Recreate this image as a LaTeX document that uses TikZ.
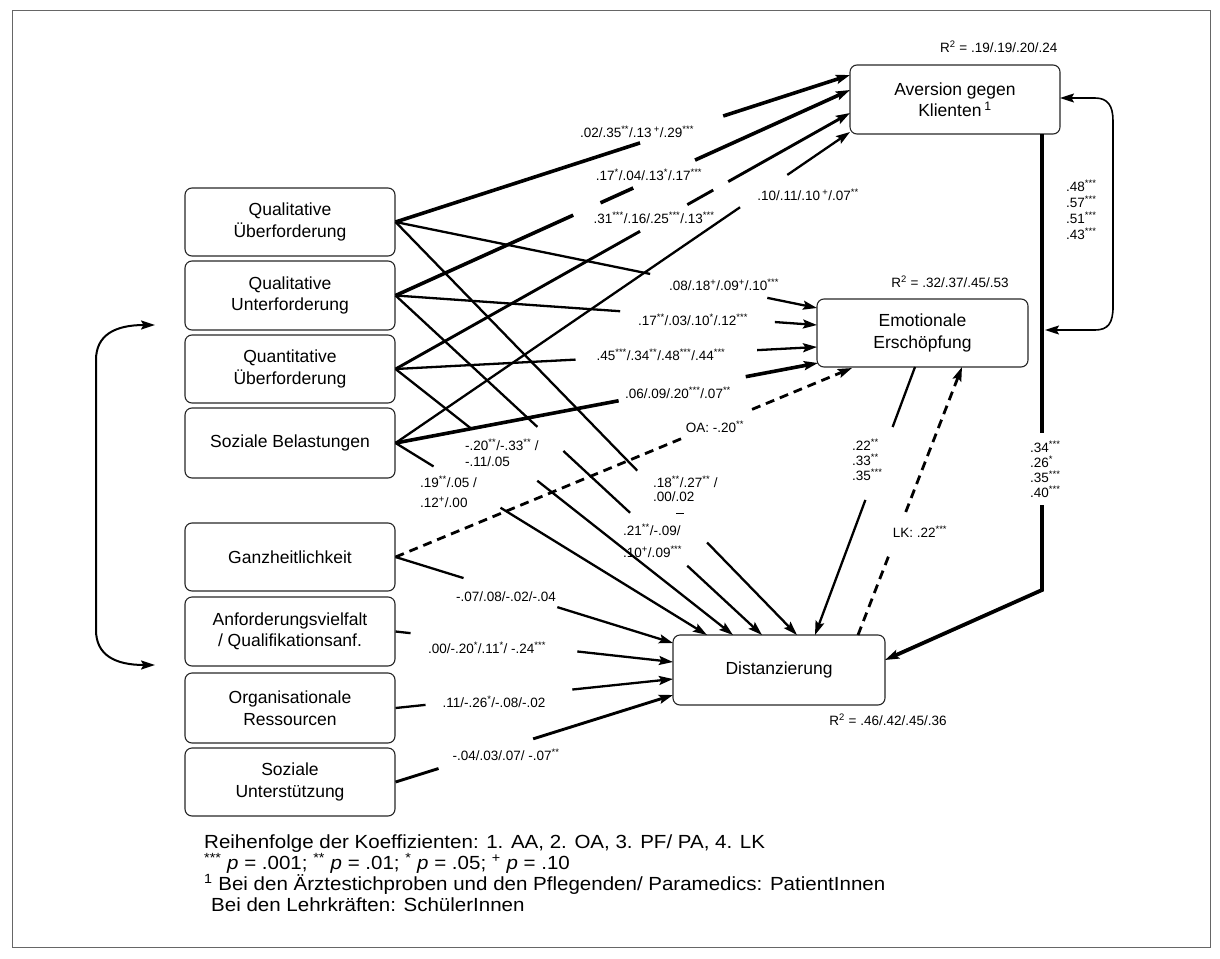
\documentclass[tikz,border=0pt]{standalone}
\usepackage{fontspec}
\setmainfont{Liberation Sans}
\newfontfamily\footfont[FakeStretch=1.08]{Liberation Sans}
\usetikzlibrary{arrows.meta,calc}
\newcommand{\supx}[1]{\textsuperscript{#1}}
\newcommand{\gapline}[5]{%
  \draw[#1] (#2) -- ($(#2)!#3!(#5)$);
  \draw[#1,tip] ($(#2)!#4!(#5)$) -- (#5);}
\begin{document}
\begin{tikzpicture}[x=1pt,y=-1pt,
  box/.style={draw=black!85, line width=1.1pt, rounded corners=7pt, minimum width=210pt,
    minimum height=68pt, align=center, inner sep=2pt, font=\fontsize{17.5}{21.5}\selectfont},
  lbl/.style={inner sep=0pt, font=\fontsize{13.5}{16}\selectfont},
  med/.style={line width=2.3pt},
  thk/.style={line width=3.6pt},
  tip/.style={-{Stealth[length=14pt,width=9pt,inset=2.5pt]}},
  dsh/.style={line width=2.8pt, dash pattern=on 9pt off 6pt},
  foot/.style={anchor=base west, inner sep=0pt, font=\footfont\fontsize{19}{21}\selectfont}
]
\useasboundingbox (0,0) rectangle (1220,958);
\draw[black!60, line width=0.8pt] (12,10) rectangle (1210,947);

% left boxes
\node[box] (q1) at (290,222) {Qualitative\\Überforderung};
\node[box, minimum height=69pt] (q2) at (290,295.5) {Qualitative\\Unterforderung};
\node[box] (q3) at (290,369) {Quantitative\\Überforderung};
\node[box, minimum height=70pt] (q4) at (290,443) {Soziale Belastungen};
\node[box] (g) at (290,557) {Ganzheitlichkeit};
\node[box, minimum height=69pt] (a) at (290,631.5) {Anforderungsvielfalt\\/ Qualifikationsanf.};
\node[box, minimum height=70pt] (o) at (290,708) {Organisationale\\Ressourcen};
\node[box] (u) at (290,782) {Soziale\\Unterstützung};

% right boxes
\node[box, minimum height=69pt] (av) at (955,99.5) {Aversion gegen\\Klienten\,\supx{1}};
\node[box, minimum width=211pt] (em) at (922.5,333) {Emotionale\\Erschöpfung};
\node[box, minimum width=212pt, minimum height=70pt] (di) at (779,670) {Distanzierung};

% target coordinates
\coordinate (av1) at (850,75);
\coordinate (av2) at (850,90);
\coordinate (av3) at (850,113);
\coordinate (av4) at (850,132);
\coordinate (em1) at (817,308);
\coordinate (em2) at (817,325);
\coordinate (em3) at (817,347);
\coordinate (em4) at (818,363);
\coordinate (dt1) at (707,635);
\coordinate (dt2) at (733,635);
\coordinate (dt3) at (762,635);
\coordinate (dt4) at (797,635);
\coordinate (dl1) at (673,643);
\coordinate (dl2) at (673,662);
\coordinate (dl3) at (673,679);
\coordinate (dl4) at (673,695);
\coordinate (emb1) at (852,368);
\coordinate (emb2) at (962,367);
\coordinate (emb3) at (915,367);
\coordinate (dt5) at (815,635);
\coordinate (dt6) at (858,635);
\coordinate (avs) at (1042,134);
\coordinate (vgap1) at (1042,433);
\coordinate (vgap2) at (1042,505);
\coordinate (bend) at (1042,590);
\coordinate (de) at (885,660);
\coordinate (ave) at (1060,98);
\coordinate (vl) at (1045,330);
\coordinate (lt) at (155,325);
\coordinate (lb) at (155,665);

% to Aversion
\gapline{thk}{q1.east}{0.538}{0.721}{av1}
\draw[thk] (q2.east) -- ($(q2.east)!0.391!(av2)$) ($(q2.east)!0.451!(av2)$) -- ($(q2.east)!0.523!(av2)$);
\draw[thk,tip] ($(q2.east)!0.659!(av2)$) -- (av2);
\draw[line width=2.9pt] (q3.east) -- ($(q3.east)!0.538!(av3)$) ($(q3.east)!0.642!(av3)$) -- ($(q3.east)!0.699!(av3)$);
\draw[line width=2.9pt,tip] ($(q3.east)!0.732!(av3)$) -- (av3);
\gapline{med}{q4.east}{0.758}{0.862}{av4}

% to Emotionale Erschoepfung
\gapline{med}{q1.east}{0.604}{0.882}{em1}
\gapline{med}{q2.east}{0.533}{0.900}{em2}
\gapline{med}{q3.east}{0.427}{0.858}{em3}
\gapline{thk}{q4.east}{0.528}{0.829}{em4}

% to Distanzierung (top)
\gapline{med}{q4.east}{0.122}{0.337}{dt1}
\gapline{med}{q3.east}{0.222}{0.420}{dt2}
\draw[med] (q2.east) -- ($(q2.east)!0.387!(dt3)$) ($(q2.east)!0.458!(dt3)$) -- ($(q2.east)!0.640!(dt3)$);
\draw[med,tip] ($(q2.east)!0.796!(dt3)$) -- (dt3);
\gapline{med}{q1.east}{0.602}{0.776}{dt4}

% to Distanzierung (left)
\gapline{med}{g.east}{0.245}{0.583}{dl1}
\gapline{med}{a.east}{0.054}{0.655}{dl2}
\gapline{med}{o.east}{0.108}{0.637}{dl3}
\gapline{line width=2.9pt}{u.east}{0.155}{0.496}{dl4}

% dashed paths
\gapline{dsh}{g.east}{0.630}{0.781}{emb1}
\gapline{dsh}{dt6}{0.299}{0.459}{emb2}
% Emotionale -> Distanzierung
\gapline{med}{emb3}{0.224}{0.496}{dt5}

% Aversion -> Distanzierung
\draw[line width=3.8pt] (avs) -- (vgap1);
\draw[line width=3.8pt, tip] (vgap2) -- (bend) -- (de);

% correlation arrows
\draw[line width=1.6pt, {Stealth[length=14pt,width=9pt,inset=2.5pt]}-{Stealth[length=14pt,width=9pt,inset=2.5pt]}]
  (ave) -- (1095,98) .. controls (1108,98) and (1113,106) .. (1113,121) -- (1113,307)
  .. controls (1113,323) and (1108,330) .. (1095,330) -- (vl);
\draw[line width=2pt, {Stealth[length=14pt,width=9pt,inset=2.5pt]}-{Stealth[length=14pt,width=9pt,inset=2.5pt]}]
  (lt) .. controls (115,325) and (96,335) .. (96,360) -- (96,630)
  .. controls (96,655) and (115,665) .. (lb);

% stray mark
\draw[line width=1pt] (676,513) -- (684,513);

% labels
\node[lbl] (l1) at (637,132) {.02/.35\supx{**}/.13\,\supx{+}/.29\supx{***}};
\node[lbl] (l2) at (649,175) {.17\supx{*}/.04/.13\supx{*}/.17\supx{***}};
\node[lbl] (l3) at (654,218) {.31\supx{***}/.16/.25\supx{***}/.13\supx{***}};
\node[lbl] (l4) at (808,195) {.10/.11/.10\,\supx{+}/.07\supx{**}};
\node[lbl] (l5) at (724,285) {.08/.18\supx{+}/.09\supx{+}/.10\supx{***}};
\node[lbl] (l6) at (693,320) {.17\supx{**}/.03/.10\supx{*}/.12\supx{***}};
\node[lbl] (l7) at (661,355) {.45\supx{***}/.34\supx{**}/.48\supx{***}/.44\supx{***}};
\node[lbl] (l8) at (678,393) {.06/.09/.20\supx{***}/.07\supx{**}};
\node[lbl] (l9) at (715,427) {OA: -.20\supx{**}};
\node[lbl, anchor=west] (l10a) at (465,445) {-.20\supx{**}/-.33\supx{**} /};
\node[lbl, anchor=west] (l10b) at (465,462) {-.11/.05};
\node[lbl, anchor=west] (l11a) at (420,482) {.19\supx{**}/.05 /};
\node[lbl, anchor=west] (l11b) at (420,502) {.12\supx{+}/.00};
\node[lbl, anchor=west] (l12a) at (653,482) {.18\supx{**}/.27\supx{**} /};
\node[lbl, anchor=west] (l12b) at (653,497) {.00/.02};
\node[lbl, anchor=west] (l13a) at (623,530) {.21\supx{**}/-.09/};
\node[lbl, anchor=west] (l13b) at (623,552) {.10\supx{+}/.09\supx{***}};
\node[lbl, anchor=west] (l14a) at (852,445) {.22\supx{**}};
\node[lbl, anchor=west] (l14b) at (852,460) {.33\supx{**}};
\node[lbl, anchor=west] (l14c) at (852,475) {.35\supx{***}};
\node[lbl] (l15) at (920,532) {LK: .22\supx{***}};
\node[lbl] (l16) at (506,597) {-.07/.08/-.02/-.04};
\node[lbl] (l17) at (487,648) {.00/-.20\supx{*}/.11\supx{*}/ -.24\supx{***}};
\node[lbl] (l18) at (494,702) {.11/-.26\supx{*}/-.08/-.02};
\node[lbl] (l19) at (506,755) {-.04/.03/.07/ -.07\supx{**}};
\node[lbl, anchor=west] (r1) at (940,47) {R\supx{2} = .19/.19/.20/.24};
\node[lbl] (r2) at (950,282) {R\supx{2} = .32/.37/.45/.53};
\node[lbl] (r3) at (888,720) {R\supx{2} = .46/.42/.45/.36};
\node[lbl, anchor=west] (c1) at (1066,186) {.48\supx{***}};
\node[lbl, anchor=west] (c2) at (1066,202) {.57\supx{***}};
\node[lbl, anchor=west] (c3) at (1066,218) {.51\supx{***}};
\node[lbl, anchor=west] (c4) at (1066,234) {.43\supx{***}};
\node[lbl, anchor=west] (v1) at (1030,447) {.34\supx{***}};
\node[lbl, anchor=west] (v2) at (1030,462) {.26\supx{*}};
\node[lbl, anchor=west] (v3) at (1030,477) {.35\supx{***}};
\node[lbl, anchor=west] (v4) at (1030,492) {.40\supx{***}};

% footer
\node[foot] (f1) at (204,848) {Reihenfolge der Koeffizienten: 1. AA, 2. OA, 3. PF/ PA, 4. LK};
\node[foot] (f2) at (204,869) {\supx{***} \textit{p} = .001; \supx{**} \textit{p} = .01; \supx{*} \textit{p} = .05; \supx{+} \textit{p} = .10};
\node[foot] (f3) at (204,890) {\supx{1} Bei den Ärztestichproben und den Pflegenden/ Paramedics: PatientInnen};
\node[foot] (f4) at (211,911) {Bei den Lehrkräften: SchülerInnen};
\end{tikzpicture}
\end{document}
